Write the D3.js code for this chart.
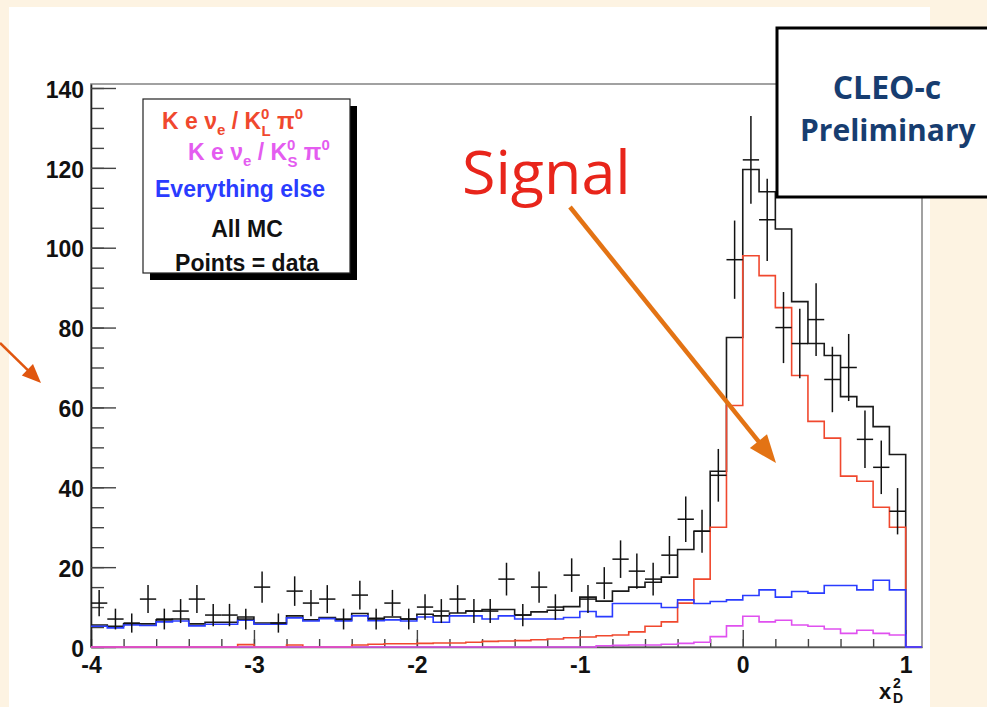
<!DOCTYPE html>
<html>
<head>
<meta charset="utf-8">
<script src="https://cdnjs.cloudflare.com/ajax/libs/d3/7.8.5/d3.min.js"></script>
<style>
body { margin: 0; background: #fdf3e2; }
svg { display: block; }
</style>
</head>
<body>
<div id="chart"></div>
<script>
/*///////////////////////////////////////////////////////////
// Data : 50 bins of 0.1 from -4 to 1 (last edge 1.1 is empty)
///////////////////////////////////////////////////////////*/
var binLow = -4, binWidth = 0.1, nBins = 50;

var dataCounts = [11, 7, 6, 12, 7, 9, 12, 8, 8, 7,
	15, 6, 14, 11, 12, 7, 13, 7, 11, 7,
	10, 9, 12, 9, 9, 17, 8, 15, 10, 18,
	12, 16, 22, 19, 17, 23, 32, 29, 43, 97,
	122, 107, 80, 76, 82, 67, 70, 52, 45, 34];
var dataErrors = [3.3, 2.6, 2.4, 3.5, 2.6, 3, 3.5, 2.8, 2.8, 2.6,
	3.9, 2.4, 3.7, 3.3, 3.5, 2.6, 3.6, 2.6, 3.3, 2.6,
	3.2, 3, 3.5, 3, 3, 4.1, 2.8, 3.9, 3.2, 4.2,
	3.5, 4, 4.7, 4.4, 4.1, 4.8, 5.7, 5.4, 6.6, 9.8,
	11, 10.3, 8.9, 8.7, 9.1, 8.2, 8.4, 7.2, 6.7, 5.8];

var allMC = [5.5, 5.2, 5.8, 5.8, 6.8, 7, 5.8, 6.2, 6.2, 7.5,
	6, 6, 7.8, 6.8, 7.4, 6.8, 8.4, 7.2, 7.5, 7,
	8.2, 7.8, 8.5, 9, 9.4, 9.4, 8, 8.8, 9.2, 10.1,
	12.5, 11.5, 14, 15, 16.2, 17.5, 24.4, 29, 44, 77.5,
	119.6, 114, 104.7, 86.5, 76, 73, 62.7, 60.2, 55.2, 48.2];
var klPi0 = [0, 0, 0, 0, 0, 0, 0, 0, 0, 0.6,
	0, 0, 0.5, 0, 0, 0, 0.5, 0.7, 0.8, 0.8,
	0.9, 1, 1, 1.2, 1.4, 1.5, 1.6, 1.8, 2, 2.3,
	2.5, 2.8, 3, 3.8, 5.2, 6.3, 11, 17, 30, 60.5,
	98, 93, 85, 68, 56.5, 52.3, 42.8, 41.5, 35, 30];
var ksPi0 = [0, 0, 0, 0, 0, 0, 0, 0, 0, 0,
	0, 0, 0, 0, 0, 0, 0, 0, 0, 0,
	0, 0, 0, 0, 0, 0, 0, 0, 0, 0,
	0, 0.3, 0.4, 0.5, 0.5, 0.7, 0.9, 1.2, 2.6, 5.3,
	7.7, 6.3, 6.7, 5.5, 5.2, 4.5, 3.4, 4.2, 3.4, 3];
var everythingElse = [5.2, 4.8, 5.5, 5.4, 6.3, 6.5, 5.3, 5.7, 5.7, 6.7,
	5.7, 5.7, 7.3, 6.5, 7.1, 6.5, 7.8, 6.6, 6.8, 6.5,
	7.5, 6.2, 7.8, 7.8, 7, 7.8, 7, 7, 7, 7.4,
	8.9, 7.6, 10.9, 10.9, 10.9, 9.9, 11.8, 10.9, 11.4, 11.8,
	12.9, 14.3, 12.5, 13.9, 13.5, 15.4, 15.4, 14.3, 16.7, 14.3];

var xTicks = [-4, -3, -2, -1, 0, 1];
var yTicks = [0, 20, 40, 60, 80, 100, 120, 140];

/*///////////////////////////////////////////////////////////
// Setup
///////////////////////////////////////////////////////////*/
var width = 987, height = 707;
var fontAxis = "'Liberation Sans', Arial, Helvetica, sans-serif";

var svg = d3.select("#chart").append("svg")
	.attr("width", width)
	.attr("height", height);

/*slide background and white picture*/
svg.append("rect").attr("width", width).attr("height", height).style("fill", "#fdf3e2");
svg.append("rect")
	.attr("x", 9).attr("y", 7)
	.attr("width", 921).attr("height", 700)
	.style("fill", "#ffffff");

var x = d3.scaleLinear().domain([binLow, 1.1]).range([91, 922]);
var y = d3.scaleLinear().domain([0, 141]).range([647, 84]);

var edges = d3.range(nBins + 2).map(function(i) { return binLow + i * binWidth; });

/*frame*/
svg.append("rect")
	.attr("x", x(binLow)).attr("y", y(141))
	.attr("width", x(1.1) - x(binLow)).attr("height", y(0) - y(141))
	.style("fill", "none")
	.style("stroke", "#8a8a8a")
	.style("stroke-width", 1.6);

/*///////////////////////////////////////////////////////////
// Axes (ticks inside the frame, ROOT style)
///////////////////////////////////////////////////////////*/
var xMinor = d3.range(-4, 1.0001, 0.2);
svg.append("g")
	.attr("transform", "translate(0," + y(0) + ")")
	.call(d3.axisBottom(x).tickValues(xMinor).tickSize(-8).tickFormat(""))
	.call(function(g) { g.select(".domain").remove(); });
var xAxis = svg.append("g")
	.attr("transform", "translate(0," + y(0) + ")")
	.call(d3.axisBottom(x).tickValues(xTicks).tickSize(-17).tickSizeOuter(0).tickPadding(10)
		.tickFormat(function(d) { return String(d); }));
xAxis.select(".domain").style("stroke", "#555").style("stroke-width", 1.5);

var yMinor = d3.range(0, 141, 5);
svg.append("g")
	.attr("transform", "translate(" + x(binLow) + ",0)")
	.call(d3.axisLeft(y).tickValues(yMinor).tickSize(-13).tickFormat(""))
	.call(function(g) { g.select(".domain").remove(); });
var yAxis = svg.append("g")
	.attr("transform", "translate(" + x(binLow) + ",0)")
	.call(d3.axisLeft(y).tickValues(yTicks).tickSize(-25).tickSizeOuter(0).tickPadding(7));
yAxis.select(".domain").style("stroke", "#222").style("stroke-width", 1.6);

svg.selectAll(".tick line").style("stroke", "#444").style("stroke-width", 1.4);
svg.selectAll(".tick text")
	.style("font-family", fontAxis)
	.style("font-weight", "bold")
	.style("font-size", "23px")
	.style("fill", "#111");
yAxis.selectAll(".tick text").attr("dy", "0.4em");

/*x title: x_D^2*/
var xt = svg.append("g").style("font-family", fontAxis).style("font-weight", "bold").style("fill", "#111");
xt.append("text").attr("x", 879).attr("y", 699).style("font-size", "22px").text("x");
xt.append("text").attr("x", 893).attr("y", 688).style("font-size", "14px").text("2");
xt.append("text").attr("x", 893).attr("y", 703).style("font-size", "14px").text("D");

/*///////////////////////////////////////////////////////////
// Histograms
///////////////////////////////////////////////////////////*/
var step = d3.line()
	.x(function(d) { return x(d[0]); })
	.y(function(d) { return y(d[1]); })
	.curve(d3.curveStepAfter);

function histPoints(vals) {
	var pts = edges.slice(0, nBins).map(function(e, i) { return [e, vals[i]]; });
	pts.push([edges[nBins], 0]);
	pts.push([edges[nBins + 1], 0]);
	return pts;
}

var hists = [
	{ vals: allMC, color: "#1a1a1a" },
	{ vals: klPi0, color: "#f0482e" },
	{ vals: ksPi0, color: "#e050ef" },
	{ vals: everythingElse, color: "#2a3cff" }
];

svg.selectAll(".hist")
	.data(hists)
	.enter().append("path")
	.attr("class", "hist")
	.attr("d", function(d) { return step(histPoints(d.vals)); })
	.style("fill", "none")
	.style("stroke", function(d) { return d.color; })
	.style("stroke-width", 1.6);

/*data points with error bars*/
var pts = svg.selectAll(".pt")
	.data(dataCounts)
	.enter().append("g")
	.attr("class", "pt")
	.style("stroke", "#111")
	.style("stroke-width", 1.5);
pts.append("line")
	.attr("x1", function(d, i) { return x(edges[i] + binWidth / 2); })
	.attr("x2", function(d, i) { return x(edges[i] + binWidth / 2); })
	.attr("y1", function(d, i) { return y(d - dataErrors[i]); })
	.attr("y2", function(d, i) { return y(d + dataErrors[i]); });
pts.append("line")
	.attr("x1", function(d, i) { return x(edges[i]); })
	.attr("x2", function(d, i) { return x(edges[i + 1]); })
	.attr("y1", function(d) { return y(d); })
	.attr("y2", function(d) { return y(d); });

/*///////////////////////////////////////////////////////////
// Legend
///////////////////////////////////////////////////////////*/
svg.append("rect").attr("x", 150).attr("y", 106).attr("width", 207).attr("height", 174).style("fill", "#000");
svg.append("rect").attr("x", 143).attr("y", 99).attr("width", 207).attr("height", 174)
	.style("fill", "#fff").style("stroke", "#222").style("stroke-width", 1.2);

var leg = svg.append("g")
	.style("font-family", fontAxis)
	.style("font-weight", "bold")
	.style("font-size", "23px");

function kLine(xPos, yPos, color, sub) {
	var t = leg.append("text").attr("x", xPos).attr("y", yPos).style("fill", color);
	t.append("tspan").text("K e \u03bd");
	t.append("tspan").attr("dy", 6).style("font-size", "15px").text("e");
	t.append("tspan").attr("dy", -6).text(" / K");
	t.append("tspan").attr("dy", -10).style("font-size", "15px").text("0");
	t.append("tspan").attr("dx", -8).attr("dy", 17).style("font-size", "15px").text(sub);
	t.append("tspan").attr("dy", -7).text(" \u03c0");
	t.append("tspan").attr("dy", -10).style("font-size", "15px").text("0");
}
kLine(162, 129, "#f0482e", "L");
kLine(188, 160, "#e45cf0", "S");

leg.append("text").attr("x", 155).attr("y", 197).style("fill", "#2a3cff").text("Everything else");
leg.append("text").attr("x", 247).attr("y", 237).attr("text-anchor", "middle").style("fill", "#111").text("All MC");
leg.append("text").attr("x", 247).attr("y", 271).attr("text-anchor", "middle").style("fill", "#111").text("Points = data");

/*///////////////////////////////////////////////////////////
// Slide annotations
///////////////////////////////////////////////////////////*/
svg.append("rect")
	.attr("x", 777).attr("y", 28)
	.attr("width", 225).attr("height", 169)
	.style("fill", "#fff")
	.style("stroke", "#000")
	.style("stroke-width", 3);
svg.append("text")
	.attr("x", 887).attr("y", 99)
	.attr("text-anchor", "middle")
	.style("font-family", "'Open Sans', sans-serif")
	.style("font-weight", "bold")
	.style("font-size", "32px")
	.style("fill", "#173d70")
	.text("CLEO-c");
svg.append("text")
	.attr("x", 800).attr("y", 141)
	.style("font-family", "'Open Sans', sans-serif")
	.style("font-weight", "bold")
	.style("font-size", "30px")
	.style("fill", "#173d70")
	.text("Preliminary");

svg.append("text")
	.attr("x", 462).attr("y", 194)
	.style("font-family", "'Open Sans', sans-serif")
	.style("font-size", "61px")
	.style("fill", "#e8251b")
	.text("Signal");

function arrow(x0, y0, x1, y1, len, half, color, w) {
	var dx = x1 - x0, dy = y1 - y0, L = Math.sqrt(dx * dx + dy * dy);
	var ux = dx / L, uy = dy / L;
	svg.append("line")
		.attr("x1", x0).attr("y1", y0)
		.attr("x2", x1 - ux * len * 0.8).attr("y2", y1 - uy * len * 0.8)
		.style("stroke", color).style("stroke-width", w);
	var bx = x1 - ux * len, by = y1 - uy * len;
	svg.append("polygon")
		.attr("points", [[x1, y1], [bx - uy * half, by + ux * half], [bx + uy * half, by - ux * half]].join(" "))
		.style("fill", color);
}
arrow(570, 207, 776, 463, 28, 11, "#e37314", 4.5);
arrow(0, 343, 41, 383, 19, 8, "#e0560f", 2.5);
</script>
</body>
</html>
